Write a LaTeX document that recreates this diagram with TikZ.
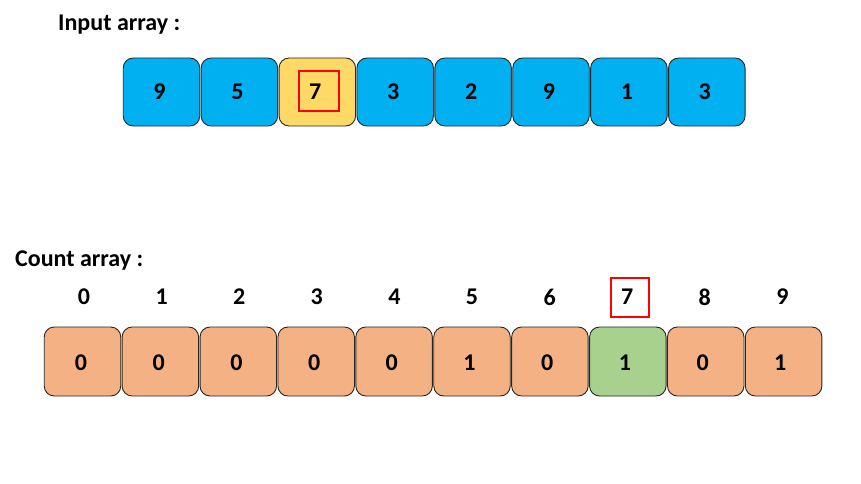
\documentclass[tikz,border=0pt]{standalone}
\usepackage{fontspec}
\setmainfont{Carlito}
\definecolor{cellblue}{HTML}{00B0F0}
\definecolor{cellyellow}{HTML}{FFD966}
\definecolor{cellorange}{HTML}{F4B183}
\definecolor{cellgreen}{HTML}{A9D18E}
\definecolor{edgegray}{HTML}{262626}
\tikzset{
  cell/.style={draw=edgegray, line width=0.9pt, rounded corners=10pt, minimum width=76.5pt, minimum height=68pt, inner sep=0pt},
  digit/.style={inner sep=0pt, font=\fontsize{24}{28}\selectfont\bfseries},
  idx/.style={inner sep=0pt, font=\fontsize{24}{28}\selectfont\bfseries},
  title/.style={inner sep=0pt, font=\fontsize{24}{28}\selectfont\bfseries},
  hl/.style={draw=red, line width=1.6pt, inner sep=0pt}
}
\begin{document}
\begin{tikzpicture}[x=1pt,y=1pt]
\useasboundingbox (0,0) rectangle (861,483);
\node[title, anchor=base west] (tin) at (58,452) {Input array :};
\node[title, anchor=base west] (tcount) at (15,217) {Count array :};
% input array
\foreach \v [count=\i from 0] in {9,5,7,3,2,9,1,3} {
  \ifnum\i=2
    \node[cell, fill=cellyellow] (in\i) at ({161.5+\i*77.9},391) {};
  \else
    \node[cell, fill=cellblue] (in\i) at ({161.5+\i*77.9},391) {};
  \fi
  \node[digit] (inv\i) at ({159.5+\i*77.9},391) {\v};
}
\node[hl, minimum width=40pt, minimum height=40pt] (inhl) at (319,392) {};
% count array
\foreach \v [count=\i from 0] in {0,0,0,0,0,1,0,1,0,1} {
  \ifnum\i=7
    \node[cell, fill=cellgreen, minimum height=69pt] (c\i) at ({82.5+\i*77.9},121.5) {};
  \else
    \node[cell, fill=cellorange, minimum height=69pt] (c\i) at ({82.5+\i*77.9},121.5) {};
  \fi
  \node[digit] (cv\i) at ({81+\i*77.7},120.5) {\v};
  \node[idx] (ix\i) at ({84+\i*77.6},186) {\i};
}
\node[hl, minimum width=38pt, minimum height=39pt] (cthl) at (630,185.5) {};
\end{tikzpicture}
\end{document}
